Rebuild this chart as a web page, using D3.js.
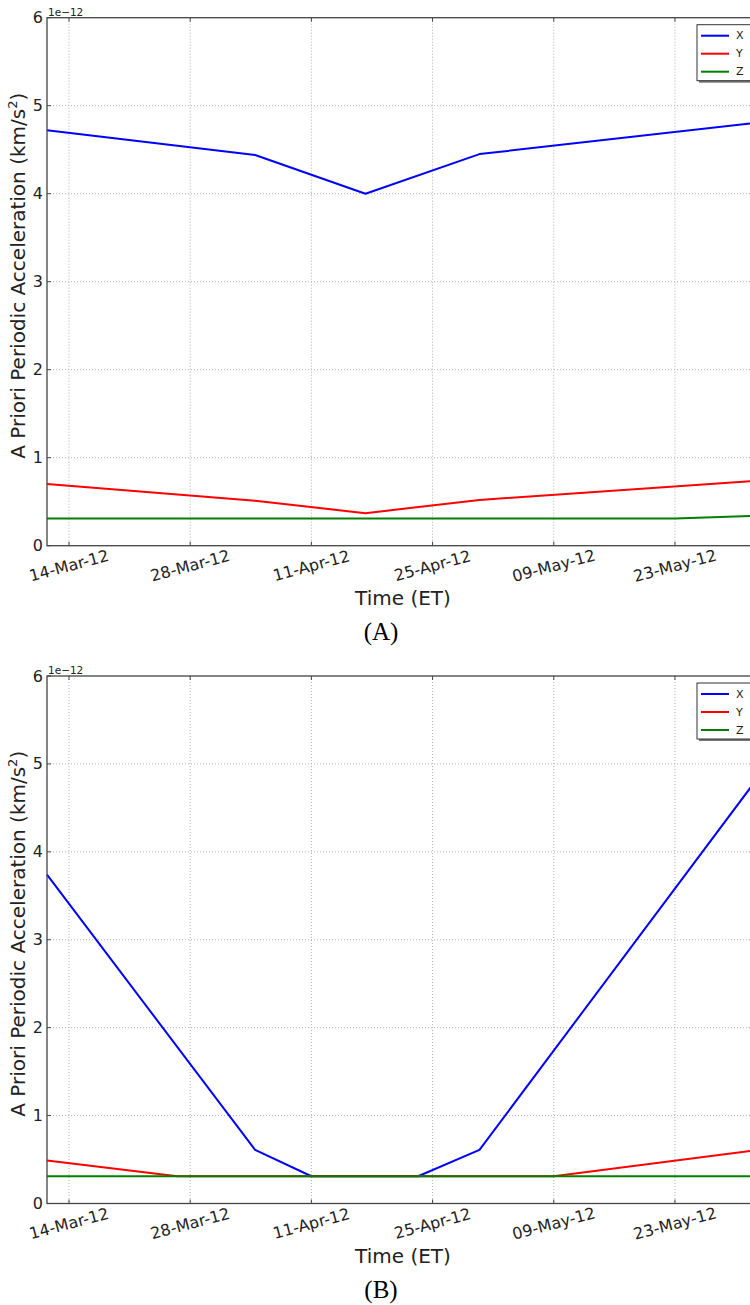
<!DOCTYPE html>
<html>
  <head>
    <style>
      body { margin: 0; background: #fff; }
      svg { display: block; }
      .tick-label { font: 16px "DejaVu Sans", sans-serif; fill: #222; }
      .axis-title { font: 20px "DejaVu Sans", sans-serif; fill: #222; }
      .caption { font: 25px "Liberation Serif", "Times New Roman", serif; fill: #000; }
      .legend-text { font: 11px "DejaVu Sans", sans-serif; fill: #222; }
      .grid line { stroke: #b0b0b0; stroke-width: 1; stroke-dasharray: 1,2; }
      .series { fill: none; stroke-width: 2; stroke-linejoin: round; }
    </style>
  </head>
  <body>
    <script src="https://d3js.org/d3.v7.min.js"></script>
    <svg></svg>
    <script>
      // x domain ends and tick dates
      const domainDates = ["2012-03-11 11:00", "2012-06-01 17:00"];
      const tickDates = ["2012-03-14 00:00", "2012-03-28 00:00", "2012-04-11 00:00",
                         "2012-04-25 00:00", "2012-05-09 00:00", "2012-05-23 00:00"];
      const yTicks = [0, 1, 2, 3, 4, 5, 6];
      const seriesNames = ["X", "Y", "Z"];
      const seriesColors = ["#0000ff", "#ff0000", "#008000"];

      // panel A (values in 1e-12 km/s^2)
      const aXDates = ["2012-03-11 11:00", "2012-04-04 12:00", "2012-04-17 06:00", "2012-04-30 10:00", "2012-06-01 17:00"];
      const aXValues = [4.72, 4.44, 4.00, 4.45, 4.81];
      const aYDates = ["2012-03-11 11:00", "2012-04-04 12:00", "2012-04-17 06:00", "2012-04-30 10:00", "2012-06-01 17:00"];
      const aYValues = [0.70, 0.51, 0.37, 0.52, 0.74];
      const aZDates = ["2012-03-11 11:00", "2012-05-23 00:00", "2012-06-01 17:00"];
      const aZValues = [0.31, 0.31, 0.34];

      // panel B
      const bXDates = ["2012-03-11 11:00", "2012-04-04 12:00", "2012-04-11 00:00", "2012-04-23 08:00", "2012-04-30 10:00", "2012-06-01 17:00"];
      const bXValues = [3.74, 0.61, 0.31, 0.31, 0.61, 4.86];
      const bYDates = ["2012-03-11 11:00", "2012-03-26 12:00", "2012-05-09 00:00", "2012-06-01 17:00"];
      const bYValues = [0.49, 0.31, 0.31, 0.61];
      const bZDates = ["2012-03-11 11:00", "2012-06-01 17:00"];
      const bZValues = [0.31, 0.31];

      const parse = d3.timeParse("%Y-%m-%d %H:%M");
      const fmt = d3.timeFormat("%d-%b-%y");

      const svg = d3.select("svg").attr("width", 750).attr("height", 1305);

      function zip(dates, values) {
        return dates.map((d, i) => ({ date: parse(d), value: values[i] }));
      }

      function drawPanel(top, bottom, caption, series) {
        const left = 47, right = 759;
        const x = d3.scaleTime().domain(domainDates.map(parse)).range([left, right]);
        const y = d3.scaleLinear().domain([0, 6]).range([bottom, top]);
        const g = svg.append("g");

        // grid
        const grid = g.append("g").attr("class", "grid");
        grid.selectAll(".vx").data(tickDates.map(parse)).enter().append("line")
          .attr("x1", d => x(d)).attr("x2", d => x(d)).attr("y1", top).attr("y2", bottom);
        grid.selectAll(".hy").data(yTicks.slice(1, -1)).enter().append("line")
          .attr("x1", left).attr("x2", right).attr("y1", d => y(d)).attr("y2", d => y(d));

        // lines
        const line = d3.line().x(d => x(d.date)).y(d => y(d.value));
        series.forEach((s, i) => {
          g.append("path").datum(s).attr("class", "series")
            .attr("stroke", seriesColors[i]).attr("d", line);
        });

        // frame and inward ticks
        g.append("rect").attr("x", left).attr("y", top)
          .attr("width", right - left).attr("height", bottom - top)
          .attr("fill", "none").attr("stroke", "#444").attr("stroke-width", 1.3);
        const ticks = g.append("g").attr("stroke", "#444").attr("stroke-width", 1);
        tickDates.map(parse).forEach(d => {
          ticks.append("line").attr("x1", x(d)).attr("x2", x(d)).attr("y1", bottom).attr("y2", bottom - 4);
          ticks.append("line").attr("x1", x(d)).attr("x2", x(d)).attr("y1", top).attr("y2", top + 4);
        });
        yTicks.forEach(v => {
          ticks.append("line").attr("x1", left).attr("x2", left + 4).attr("y1", y(v)).attr("y2", y(v));
        });

        // tick labels
        g.selectAll(".ylab").data(yTicks).enter().append("text")
          .attr("class", "tick-label").attr("text-anchor", "end")
          .attr("dominant-baseline", "central")
          .attr("x", left - 4).attr("y", d => y(d)).text(d => d);
        g.selectAll(".xlab").data(tickDates.map(parse)).enter().append("text")
          .attr("class", "tick-label").attr("text-anchor", "middle")
          .attr("dominant-baseline", "central")
          .attr("transform", d => `translate(${x(d)},${bottom + 20}) rotate(-15)`)
          .text(d => fmt(d));

        // offset text
        g.append("text").attr("x", left + 1).attr("y", top - 2)
          .style("font", '10.5px "DejaVu Sans", sans-serif').attr("fill", "#222")
          .text("1e\u221212");

        // axis titles
        g.append("text").attr("class", "axis-title").attr("text-anchor", "middle")
          .attr("x", (left + right) / 2).attr("y", bottom + 59).text("Time (ET)");
        const yt = g.append("text").attr("class", "axis-title").attr("text-anchor", "middle")
          .attr("transform", `translate(25,${(top + bottom) / 2 - 6}) rotate(-90)`);
        yt.append("tspan").text("A Priori Periodic Acceleration (km/s");
        yt.append("tspan").attr("dy", -8).style("font-size", "13px").text("2");
        yt.append("tspan").attr("dy", 8).text(")");

        // legend
        const lx = 697, ly = top + 7;
        g.append("rect").attr("x", lx + 2).attr("y", ly + 2).attr("width", 80).attr("height", 56)
          .attr("fill", "#777");
        g.append("rect").attr("x", lx).attr("y", ly).attr("width", 80).attr("height", 56)
          .attr("fill", "#fff").attr("stroke", "#333").attr("stroke-width", 1);
        seriesNames.forEach((n, i) => {
          const yy = ly + 11 + i * 18;
          g.append("line").attr("x1", lx + 4).attr("x2", lx + 32).attr("y1", yy).attr("y2", yy)
            .attr("stroke", seriesColors[i]).attr("stroke-width", 2);
          g.append("text").attr("class", "legend-text").attr("x", lx + 39).attr("y", yy)
            .attr("dominant-baseline", "central").text(n);
        });

        // caption
        g.append("text").attr("class", "caption").attr("text-anchor", "middle")
          .attr("x", 381).attr("y", bottom + 94).text(caption);
      }

      drawPanel(17.7, 545.7, "(A)", [zip(aXDates, aXValues), zip(aYDates, aYValues), zip(aZDates, aZValues)]);
      drawPanel(676, 1203.5, "(B)", [zip(bXDates, bXValues), zip(bYDates, bYValues), zip(bZDates, bZValues)]);
    </script>
  </body>
</html>
